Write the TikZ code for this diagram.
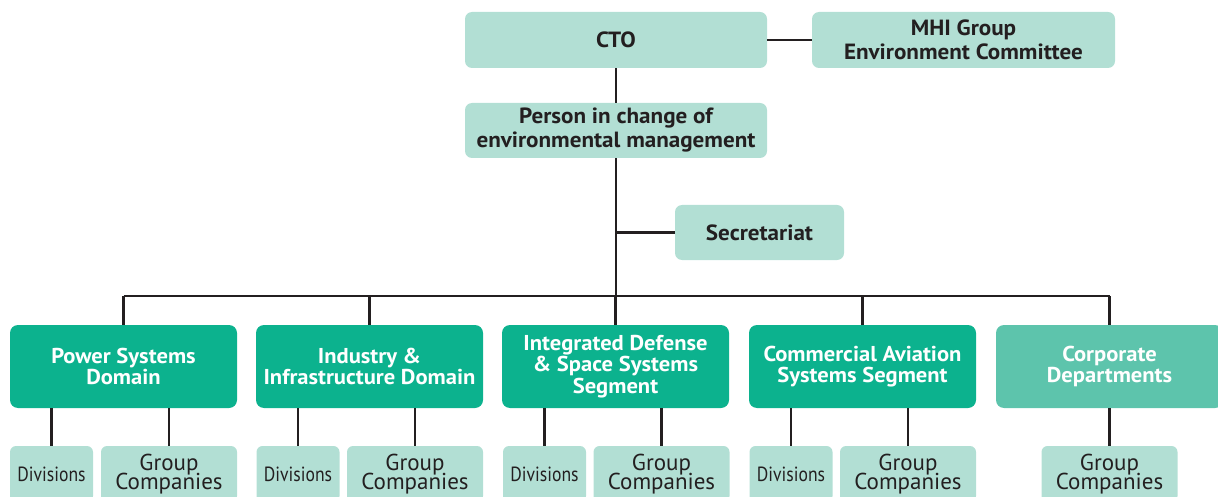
\documentclass[tikz,border=0pt]{standalone}
\usepackage{fontspec}
\setmainfont{PT Sans}[BoldFeatures={FakeStretch=1.05}]
\newfontfamily\narrowfont{PT Sans}[FakeStretch=0.86]
\usepackage{xcolor}
\definecolor{mintbox}{RGB}{178,223,212}
\definecolor{greenbox}{RGB}{12,178,142}
\definecolor{corpbox}{RGB}{93,196,172}
\definecolor{inktext}{RGB}{35,31,32}
\newcommand\grpfont{\fontsize{23}{19}\selectfont\lineskiplimit=-20pt\relax}

\begin{document}
\begin{tikzpicture}[x=1pt,y=1pt,yscale=-1,xscale=1,
  topbox/.style={fill=mintbox,rounded corners=7pt,inner sep=0pt,minimum width=302pt,minimum height=56pt,align=center,font=\bfseries\fontsize{22}{24}\selectfont,text=inktext},
  unitbox/.style={fill=greenbox,rounded corners=8pt,inner sep=0pt,minimum width=227pt,minimum height=83pt,align=center,font=\bfseries\fontsize{21.5}{21.5}\selectfont,text=white},
  subbox/.style={fill=mintbox,rounded corners=6pt,inner sep=0pt,minimum height=56pt,align=center,text=inktext},
  divbox/.style={subbox,minimum width=83pt,font=\narrowfont\fontsize{20.5}{20}\selectfont},
  grpbox/.style={subbox,minimum width=136pt,font=\grpfont},
  link/.style={draw=inktext,line width=2.4pt}]
\clip (0,0) rectangle (1218,497);

% Top boxes
\node [topbox] (cto) at (616,40) {CTO};
\node [topbox,minimum width=303pt] (committee) at (963.5,40) {MHI Group\\Environment Committee};
\node [topbox,minimum height=55pt] (person) at (616,130.5) {Person in change of\\environmental management};
\node [topbox,minimum width=169pt,minimum height=55pt] (secretariat) at (759.5,232.5) {Secretariat};

% Domains and segments
\node [unitbox] (power) at (123.5,366.5) {Power Systems\\Domain};
\node [unitbox] (industry) at (369.5,366.5) {Industry \&\\Infrastructure Domain};
\node [unitbox] (defense) at (615.5,366.5) {Integrated Defense\\\& Space Systems\\Segment};
\node [unitbox] (aviation) at (862.5,366.5) {Commercial Aviation\\Systems Segment};
\node [unitbox,fill=corpbox] (corporate) at (1109.5,366.5) {Corporate\\Departments};

% Divisions and group companies
\foreach \u/\dx/\gx in {power/51.5/169, industry/298/415, defense/544.5/661.5, aviation/791/908}{
  \node [divbox] (\u-div) at (\dx,474) {Divisions};
  \node [grpbox] (\u-grp) at (\gx,474) {Group\\Companies};
  \draw [link] (\u.south -| \u-div.north) -- (\u-div.north);
  \draw [link] (\u.south -| \u-grp.north) -- (\u-grp.north);
}
\node [grpbox] (corporate-grp) at (1109.5,474) {Group\\Companies};
\draw [link] (corporate) -- (corporate-grp);

% Connectors
\coordinate (bus) at (616,296);
\draw [link] (cto) -- (committee);
\draw [link] (cto) -- (person);
\draw [link] (person) -- (bus);
\draw [link] (secretariat.west) -- (secretariat.west -| person.south);
\draw [link] (bus -| power.north) -- (bus -| corporate.north);
\foreach \u in {power,industry,defense,aviation,corporate}
  \draw [link] (bus -| \u.north) -- (\u.north);

\end{tikzpicture}
\end{document}
